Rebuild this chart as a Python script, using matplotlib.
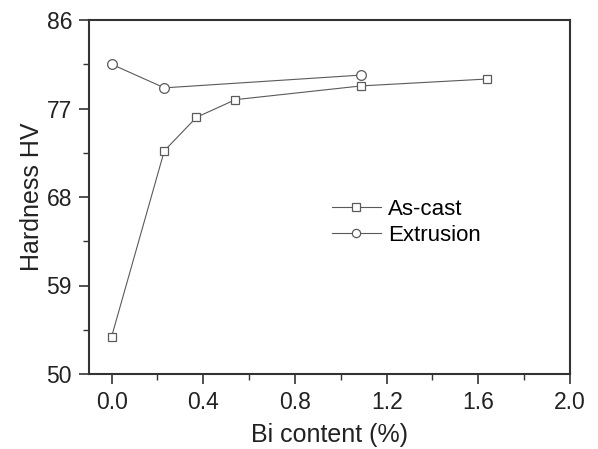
import matplotlib.pyplot as plt
from matplotlib.ticker import MultipleLocator

plt.rcParams['font.family'] = ['Liberation Sans', 'DejaVu Sans']

# As-cast series
cast_x = [0.0, 0.23, 0.37, 0.54, 1.09, 1.64]
cast_y = [53.8, 72.7, 76.1, 77.9, 79.3, 80.0]

# Extrusion series
ext_x = [0.0, 0.23, 1.09]
ext_y = [81.5, 79.1, 80.4]

xticks = [0.0, 0.4, 0.8, 1.2, 1.6, 2.0]
yticks = [50, 59, 68, 77, 86]

fig = plt.figure(figsize=(5.98, 4.49), dpi=100)
ax = fig.add_axes([88.7 / 598, 1 - 374 / 449, (570 - 88.7) / 598, 354 / 449])

gray = '#5a5a5a'
ax.plot(cast_x, cast_y, color=gray, lw=0.8, marker='s', ms=6,
        mfc='white', mec=gray, mew=0.9, label='As-cast')
ax.plot(ext_x, ext_y, color=gray, lw=0.8, marker='o', ms=7,
        mfc='white', mec=gray, mew=0.9, label='Extrusion')

ax.set_xlim(-0.1, 2.0)
ax.set_ylim(50, 86)
ax.set_xticks(xticks)
ax.set_xticklabels(['%.1f' % v for v in xticks])
ax.set_yticks(yticks)
ax.set_yticklabels([str(v) for v in yticks])
ax.xaxis.set_minor_locator(MultipleLocator(0.2))
ax.set_yticks([54.5, 63.5, 72.5, 81.5], minor=True)

for s in ax.spines.values():
    s.set_linewidth(1.5)
    s.set_color('#333333')
ax.tick_params(which='major', direction='out', length=7, width=1.2,
               labelsize=16.5, colors='#333333', labelcolor='#222222', pad=5)
ax.tick_params(which='minor', direction='out', length=4, width=1.0, colors='#333333')

ax.set_xlabel('Bi content (%)', fontsize=18, color='#222222', labelpad=7)
ax.set_ylabel('Hardness HV', fontsize=18, color='#222222', labelpad=2)

ax.legend(loc='center left', bbox_to_anchor=(0.505, 0.428), frameon=False,
          fontsize=16, handlelength=2.2, handletextpad=0.35, borderpad=0,
          borderaxespad=0, labelspacing=0.2, markerscale=0.85)

fig.savefig('out.png', dpi=100)
